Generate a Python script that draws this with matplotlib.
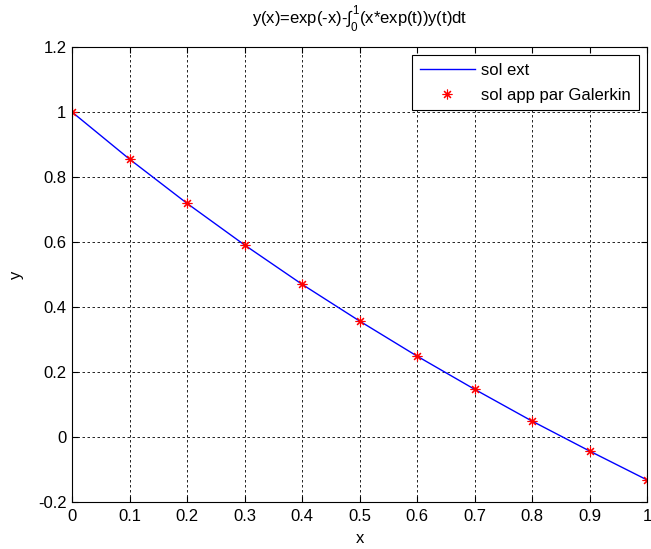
import matplotlib
matplotlib.use("Agg")
import matplotlib.pyplot as plt

plt.rcParams['font.family'] = ['Liberation Sans', 'DejaVu Sans']
plt.rcParams['mathtext.fontset'] = 'custom'
plt.rcParams['mathtext.rm'] = 'Liberation Sans'
plt.rcParams['mathtext.it'] = 'Liberation Sans'

x_line = [0.0, 0.1, 0.2, 0.3, 0.4, 0.5, 0.6, 0.7, 0.8, 0.9, 1.0]
y_line = [1.0, 0.855, 0.719, 0.591, 0.470, 0.357, 0.249, 0.147, 0.049, -0.043, -0.132]
x_pts = [0.0, 0.1, 0.2, 0.3, 0.4, 0.5, 0.6, 0.7, 0.8, 0.9, 1.0]
y_pts = [1.0, 0.855, 0.719, 0.591, 0.470, 0.357, 0.249, 0.147, 0.049, -0.043, -0.132]
xticks = [0, 0.1, 0.2, 0.3, 0.4, 0.5, 0.6, 0.7, 0.8, 0.9, 1]
xticklabels = ['0', '0.1', '0.2', '0.3', '0.4', '0.5', '0.6', '0.7', '0.8', '0.9', '1']
yticks = [-0.2, 0, 0.2, 0.4, 0.6, 0.8, 1, 1.2]
yticklabels = ['-0.2', '0', '0.2', '0.4', '0.6', '0.8', '1', '1.2']

FS = 12
fig = plt.figure(figsize=(6.51, 5.49), dpi=100)
ax = fig.add_axes([72/651, 1-502/549, (647-72)/651, (502-47)/549])

ax.plot(x_line, y_line, color='#0000ff', lw=1, label='sol ext')
ax.plot(x_pts, y_pts, linestyle='none', marker=(8, 2, 0), color='#ff0000',
        markersize=7, markeredgewidth=0.8, label='sol app par Galerkin')

ax.set_xlim(0, 1)
ax.set_ylim(-0.2, 1.2)
ax.set_xticks(xticks)
ax.set_xticklabels(xticklabels)
ax.set_yticks(yticks)
ax.set_yticklabels(yticklabels)
ax.tick_params(direction='in', top=True, right=True, length=4, labelsize=FS, width=0.8)
ax.tick_params(axis='x', pad=5)
ax.tick_params(axis='y', pad=4)
ax.grid(True, color='black', linestyle=(0, (3, 3)), linewidth=0.6)
for s in ax.spines.values():
    s.set_linewidth(0.8)

ax.set_xlabel('x', fontsize=FS, labelpad=5)
ax.set_ylabel('y', fontsize=FS, labelpad=10)
ax.set_title(r'y(x)=exp(-x)-$\int_0^1$(x*exp(t))y(t)dt', fontsize=FS, pad=17)

leg = ax.legend(loc='upper right', fancybox=False, edgecolor='black', framealpha=1,
                fontsize=FS, borderaxespad=0.5, handlelength=3.3, handletextpad=0.4,
                borderpad=0.45, labelspacing=0.6)
leg.get_frame().set_linewidth(0.8)

fig.savefig('out.png', dpi=100)
